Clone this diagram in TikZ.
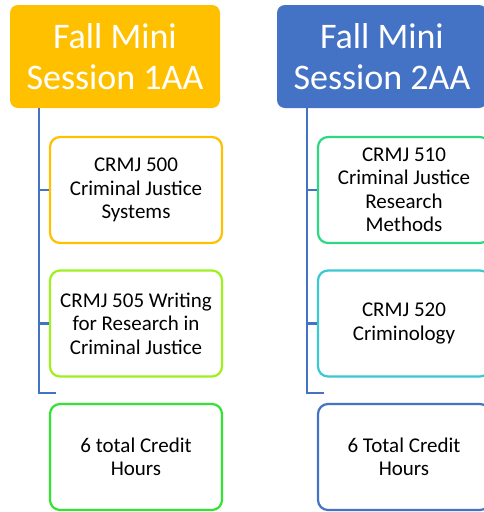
\documentclass[tikz,border=0pt]{standalone}
\usepackage{fontspec}
\setmainfont{Carlito}
\usepackage{tikz}
\usetikzlibrary{positioning}
\definecolor{gold}{HTML}{FFC000}
\definecolor{slate}{HTML}{4472C4}
\definecolor{lime}{HTML}{9EF01E}
\definecolor{leaf}{HTML}{33E233}
\definecolor{mint}{HTML}{2CD882}
\definecolor{aqua}{HTML}{3AC8D2}
\tikzset{
  head/.style={rectangle, rounded corners=8pt, minimum width=210pt, minimum height=103pt, align=center, text=white, font=\fontsize{36}{41}\selectfont},
  course/.style={rectangle, draw, line width=2.2pt, fill=white, rounded corners=10pt, minimum width=172pt, minimum height=106pt, align=center, font=\fontsize{21}{23.5}\selectfont},
  link/.style={draw=slate, line width=2.6pt},
}

\begin{document}
\begin{tikzpicture}[x=1pt, y=-1pt]
    \useasboundingbox (0,0) rectangle (483,512);
    % left column
    \node[head, fill=gold] (sessA) at (115,56.5) {Fall Mini\\Session 1AA};
    \node[course, draw=gold] (crmjA) at (136,190) {CRMJ 500\\Criminal Justice\\Systems};
    \node[course, draw=lime] (crmjB) at (136,323.5) {CRMJ 505 Writing\\for Research in\\Criminal Justice};
    \node[course, draw=leaf] (hoursA) at (136,457) {6 total Credit\\Hours};
    \coordinate (topA) at (39,108);
    \coordinate (endA) at (56,393);
    \draw[link] (topA) |- (crmjA.west);
    \draw[link] (topA) |- (crmjB.west);
    \draw[link] (topA) |- (endA);
    % right column
    \node[head, fill=slate] (sessB) at (382,56.5) {Fall Mini\\Session 2AA};
    \node[course, draw=mint] (crmjC) at (404,190) {CRMJ 510\\Criminal Justice\\Research\\Methods};
    \node[course, draw=aqua] (crmjD) at (404,323.5) {CRMJ 520\\Criminology};
    \node[course, draw=slate] (hoursB) at (404,457) {6 Total Credit\\Hours};
    \coordinate (topB) at (307,108);
    \coordinate (endB) at (324,393);
    \draw[link] (topB) |- (crmjC.west);
    \draw[link] (topB) |- (crmjD.west);
    \draw[link] (topB) |- (endB);
  \end{tikzpicture}
\end{document}
